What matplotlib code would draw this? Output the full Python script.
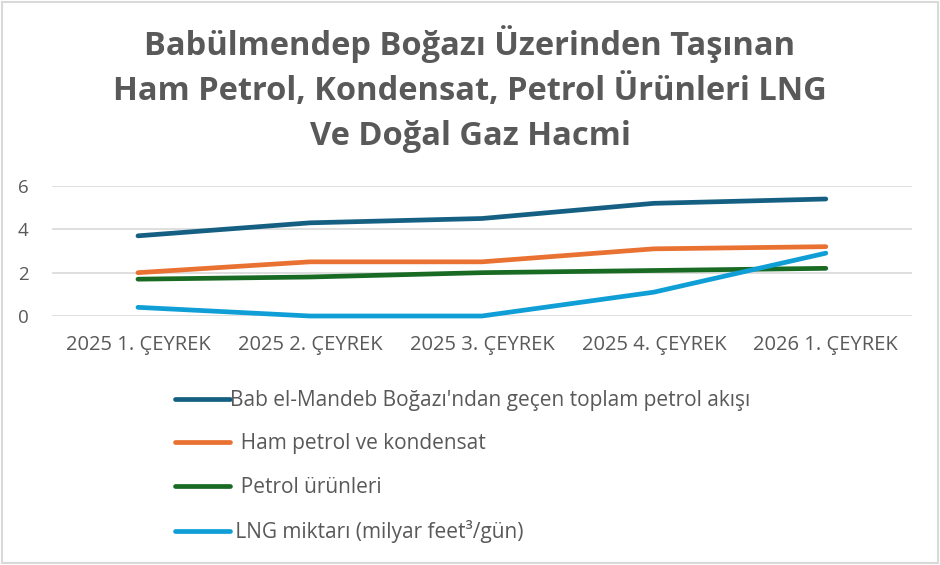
import matplotlib.pyplot as plt
from matplotlib.patches import Rectangle

plt.rcParams['font.family'] = ['Open Sans', 'DejaVu Sans']

quarters = ['2025 1. ÇEYREK', '2025 2. ÇEYREK', '2025 3. ÇEYREK',
            '2025 4. ÇEYREK', '2026 1. ÇEYREK']
total_oil = [3.7, 4.3, 4.5, 5.2, 5.4]
crude = [2.0, 2.5, 2.5, 3.1, 3.2]
products = [1.7, 1.8, 2.0, 2.1, 2.2]
lng = [0.4, 0.0, 0.0, 1.1, 2.9]

names = ["Bab el-Mandeb Boğazı'ndan geçen toplam petrol akışı",
         "  Ham petrol ve kondensat",
         "  Petrol ürünleri",
         " LNG miktarı (milyar feet³/gün)"]
colors = ['#156082', '#E97132', '#196B24', '#0F9ED5']
series = [total_oil, crude, products, lng]

title_lines = ['Babülmendep Boğazı Üzerinden Taşınan',
               'Ham Petrol, Kondensat, Petrol Ürünleri LNG',
               'Ve Doğal Gaz Hacmi']

gray = '#595959'

fig = plt.figure(figsize=(9.4, 5.65), dpi=100)
fig.patches.append(Rectangle((0.002, 0.003), 0.996, 0.994, transform=fig.transFigure,
                             fill=False, edgecolor='#d9d9d9', linewidth=1.5))

ax = fig.add_axes([0.0553, 0.4407, 0.9147, 0.2301])
x = range(len(quarters))
lines = []
for vals, name, c in zip(series, names, colors):
    ln, = ax.plot(x, vals, color=c, linewidth=3.4, solid_capstyle='round',
                  clip_on=False, label=name)
    lines.append(ln)

ax.set_xlim(-0.5, 4.5)
ax.set_ylim(0, 6)
ax.set_yticks([0, 2, 4, 6])
ax.set_xticks(list(x))
ax.set_xticklabels(quarters)
ax.grid(axis='y', color='#d9d9d9', linewidth=1.2)
ax.set_axisbelow(True)
for s in ax.spines.values():
    s.set_visible(False)
ax.tick_params(length=0, colors=gray)
ax.tick_params(axis='x', pad=14, labelsize=14.5)
ax.tick_params(axis='y', pad=17, labelsize=13.5)

for yb, line in zip([0.9035, 0.823, 0.7425], title_lines):
    fig.text(0.5, yb, line, ha='center', va='baseline', fontsize=23.5,
             fontweight='bold', color=gray)

leg = fig.legend(handles=lines, loc='upper left', bbox_to_anchor=(0.1777, 0.3248),
                 frameon=False, fontsize=15, labelcolor=gray, handlelength=2.6,
                 handletextpad=0.0, labelspacing=1.08, borderaxespad=0)
for h in leg.legend_handles:
    h.set_solid_capstyle('round')

fig.savefig('out.png', dpi=100)
